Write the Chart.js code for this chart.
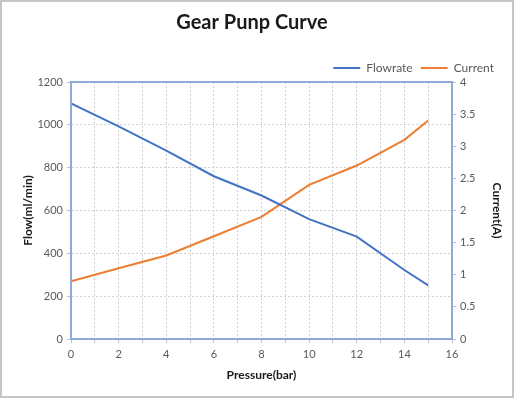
<!DOCTYPE html>
<html lang="en">
<head>
    <meta charset="UTF-8">
    <title>Gear Punp Curve</title>
    <script src="https://cdn.jsdelivr.net/npm/chart.js"></script>
    <style>
        body {
            margin: 0;
            background-color: #ffffff;
        }

        .chart-box {
            position: absolute;
            left: 0;
            top: 0;
            width: 514px;
            height: 398px;
            box-sizing: border-box;
            border: 2px solid #c6c6c6;
        }

        .chart-container {
            position: relative;
            width: 510px;
            height: 394px;
        }
    </style>
</head>
<body>
    <div class="chart-box">
        <div class="chart-container">
            <canvas id="pump-chart"></canvas>
        </div>
    </div>

    <script>
        // values
        const pressure = [0, 2, 4, 6, 8, 10, 12, 14, 15];
        const flowrate = [1100, 993, 880, 760, 670, 560, 478, 322, 250];
        const current = [0.9, 1.1, 1.3, 1.6, 1.9, 2.4, 2.7, 3.1, 3.4];

        const axisBlue = '#8eaadb';
        const gridGrey = '#cfcfcf';
        const tickGrey = '#595959';
        const fontName = 'Lato, "Liberation Sans", sans-serif';

        // blue frame round the plot area, like Excel
        const plotFrame = {
            id: 'plotFrame',
            afterDraw(chart) {
                const a = chart.chartArea;
                const ctx = chart.ctx;
                ctx.save();
                ctx.strokeStyle = axisBlue;
                ctx.lineWidth = 2;
                ctx.setLineDash([]);
                ctx.strokeRect(a.left, a.top, a.right - a.left, a.bottom - a.top);
                ctx.restore();
            }
        };

        // pin the legend band height so the plot starts where Excel's does
        const legendHeight = {
            id: 'legendHeight',
            afterInit(chart) {
                const lg = chart.legend;
                if (!lg) return;
                const fit = lg.fit;
                lg.fit = function () {
                    fit.call(this);
                    this.height = 28;
                };
            }
        };

        const plainTick = (v) => String(v);

        const ctx = document.getElementById('pump-chart').getContext('2d');
        const pumpChart = new Chart(ctx, {
            type: 'line',
            data: {
                datasets: [{
                    label: 'Flowrate',
                    data: pressure.map((p, i) => ({ x: p, y: flowrate[i] })),
                    borderColor: '#4472c4',
                    backgroundColor: '#4472c4',
                    borderWidth: 2,
                    pointRadius: 0,
                    pointStyle: 'line',
                    yAxisID: 'yFlow'
                }, {
                    label: 'Current',
                    data: pressure.map((p, i) => ({ x: p, y: current[i] })),
                    borderColor: '#ed7d31',
                    backgroundColor: '#ed7d31',
                    borderWidth: 2,
                    pointRadius: 0,
                    pointStyle: 'line',
                    yAxisID: 'yCurrent'
                }]
            },
            options: {
                responsive: true,
                maintainAspectRatio: false,
                animation: false,
                layout: {
                    padding: { left: 0, right: 10, top: 0, bottom: 0 }
                },
                plugins: {
                    title: {
                        display: true,
                        text: 'Gear Punp Curve',
                        color: '#1a1a1a',
                        font: { family: fontName, size: 20, weight: 'bold' },
                        padding: { top: 9, bottom: 19 }
                    },
                    legend: {
                        display: true,
                        position: 'top',
                        align: 'end',
                        labels: {
                            usePointStyle: true,
                            pointStyleWidth: 27,
                            boxHeight: 10,
                            color: tickGrey,
                            font: { family: fontName, size: 12 },
                            padding: 8
                        }
                    },
                    tooltip: { enabled: false }
                },
                scales: {
                    x: {
                        type: 'linear',
                        min: 0,
                        max: 16,
                        afterFit: (scale) => { scale.height = 57; },
                        ticks: {
                            stepSize: 1,
                            autoSkip: false,
                            maxRotation: 0,
                            color: tickGrey,
                            font: { family: fontName, size: 11 },
                            padding: 5,
                            callback: (v) => (v % 2 === 0 ? String(v) : '')
                        },
                        grid: {
                            color: gridGrey,
                            tickLength: 4,
                            tickColor: '#bfbfbf'
                        },
                        border: { color: axisBlue, width: 2, dash: [2, 2] },
                        title: {
                            display: true,
                            text: 'Pressure(bar)',
                            color: '#1a1a1a',
                            font: { family: fontName, size: 12, weight: 'bold' },
                            padding: { top: 0, bottom: 14 }
                        }
                    },
                    yFlow: {
                        type: 'linear',
                        position: 'left',
                        min: 0,
                        max: 1200,
                        afterFit: (scale) => { scale.width = 69; },
                        ticks: {
                            stepSize: 200,
                            color: tickGrey,
                            font: { family: fontName, size: 11 },
                            padding: 4,
                            callback: plainTick
                        },
                        grid: {
                            color: gridGrey,
                            tickLength: 4,
                            tickColor: '#bfbfbf'
                        },
                        border: { color: axisBlue, width: 2, dash: [2, 2] },
                        title: {
                            display: true,
                            text: 'Flow(ml/min)',
                            color: '#1a1a1a',
                            font: { family: fontName, size: 12, weight: 'bold' },
                            padding: { top: 19, bottom: 0 }
                        }
                    },
                    yCurrent: {
                        type: 'linear',
                        position: 'right',
                        min: 0,
                        max: 4,
                        afterFit: (scale) => { scale.width = 50; },
                        ticks: {
                            stepSize: 0.5,
                            color: tickGrey,
                            font: { family: fontName, size: 11 },
                            padding: 4,
                            callback: plainTick
                        },
                        grid: {
                            drawOnChartArea: false,
                            tickLength: 4,
                            tickColor: '#bfbfbf'
                        },
                        border: { color: axisBlue, width: 2 },
                        title: {
                            display: true,
                            text: 'Current(A)',
                            color: '#1a1a1a',
                            font: { family: fontName, size: 12, weight: 'bold' },
                            padding: { top: -2, bottom: 0 }
                        }
                    }
                }
            },
            plugins: [plotFrame, legendHeight]
        });
    </script>
</body>
</html>
